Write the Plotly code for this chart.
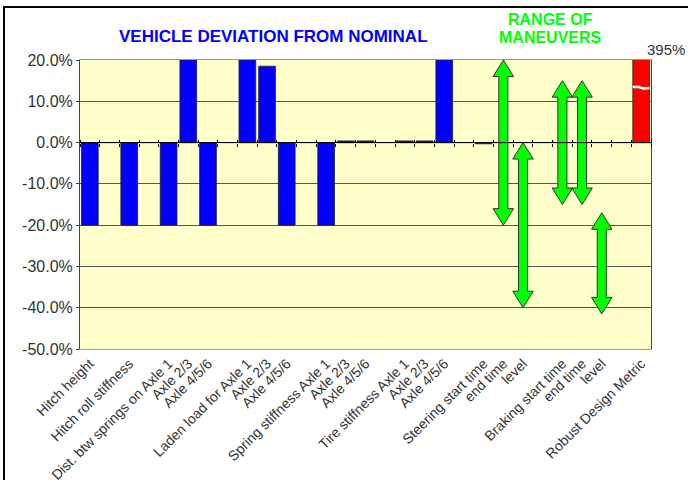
import plotly.graph_objects as go

## Data
categories = [
    "Hitch height", "", "Hitch roll stiffness", "",
    "Dist. btw springs on Axle 1", "Axle 2/3", "Axle 4/5/6", "",
    "Laden load for Axle 1", "Axle 2/3", "Axle 4/5/6", "",
    "Spring stiffness Axle 1", "Axle 2/3", "Axle 4/5/6", "",
    "Tire stiffness Axle 1", "Axle 2/3", "Axle 4/5/6", "",
    "Steering start time", "end time", "level", "",
    "Braking start time", "end time", "level", "",
    "Robust Design Metric",
]

# vehicle deviation from nominal (%), None where no bar
vehicle_dev = [
    -20, None, -20, None,
    -20, 20, -20, None,
    20, 18.5, -20, None,
    -20, 0.4, 0.4, None,
    0.4, 0.4, 20, None,
    -0.3, None, None, None,
    None, None, None, None,
    None,
]

# range of maneuvers (%)
maneuver_idx = [21, 22, 24, 25, 26]
maneuver_low = [-20, -40, -15, -15, -41.5]
maneuver_high = [20, 0, 15, 15, -17]

metric_idx = 28
metric_value = 395

y_ticks = [20, 10, 0, -10, -20, -30, -40, -50]

FONT = "Liberation Sans, Arial, sans-serif"

# plot area in pixels: x 80..651, y 60..349
def px_x(p):
    return (p - 80) / 571

def px_y(p):
    return (349 - p) / 289

fig = go.Figure()

x_all = list(range(len(categories)))

## Vehicle bars
fig.add_trace(go.Bar(
    x=x_all, y=vehicle_dev, width=0.85,
    marker=dict(color="#0000FF", line=dict(color="#222222", width=0.8)),
    hoverinfo="skip", showlegend=False,
))

## Robust design metric (clipped at top of axis)
fig.add_trace(go.Bar(
    x=[metric_idx], y=[metric_value], width=0.85,
    marker=dict(color="#FF0000", line=dict(color="#222222", width=0.8)),
    hoverinfo="skip", showlegend=False,
))

# white "break" mark across the clipped bar
brk = 13.3
fig.add_trace(go.Scatter(
    x=[metric_idx - 0.43, metric_idx - 0.15, metric_idx + 0.1, metric_idx + 0.43],
    y=[brk + 0.15, brk + 0.2, brk - 0.2, brk - 0.1],
    mode="lines", line=dict(color="white", width=2.5),
    hoverinfo="skip", showlegend=False,
))

## Double-headed arrows for the maneuver ranges
head_len = 4.0      # in % units
shaft_w = 0.23      # half width, category units
head_w = 0.52
for c, lo, hi in zip(maneuver_idx, maneuver_low, maneuver_high):
    xs = [c, c + head_w, c + shaft_w, c + shaft_w, c + head_w, c,
          c - head_w, c - shaft_w, c - shaft_w, c - head_w, c]
    ys = [hi, hi - head_len, hi - head_len, lo + head_len, lo + head_len, lo,
          lo + head_len, lo + head_len, hi - head_len, hi - head_len, hi]
    fig.add_trace(go.Scatter(
        x=xs, y=ys, mode="lines", fill="toself",
        fillcolor="#00FF00", line=dict(color="#333333", width=1),
        hoverinfo="skip", showlegend=False,
    ))

# zero line with cross tick marks (two overlaid axes)
for ax in ("x2", "x3"):
    fig.add_trace(go.Scatter(x=[-0.5, len(categories) - 0.5], y=[0, 0], xaxis=ax,
                             mode="lines", line=dict(color="black", width=1),
                             hoverinfo="skip", showlegend=False))

label_idx = [i for i, c in enumerate(categories) if c]
boundaries = [i - 0.5 for i in range(len(categories) + 1)]
tick_axis = dict(
    overlaying="x", anchor="free", position=50 / 70,
    range=[-0.5, len(categories) - 0.5],
    tickvals=boundaries, ticks="outside", ticklen=3, tickcolor="black",
    showticklabels=False, showgrid=False, zeroline=False, showline=False,
    automargin=False,
)

fig.update_layout(
    width=688, height=480,
    margin=dict(l=80, r=37, t=60, b=131, autoexpand=False),
    paper_bgcolor="white",
    plot_bgcolor="#FFFFCC",
    font=dict(family=FONT, color="#333333"),
    barmode="overlay",
    xaxis=dict(
        range=[-0.5, len(categories) - 0.5],
        tickvals=label_idx,
        ticktext=[categories[i] for i in label_idx],
        tickangle=-45,
        tickfont=dict(size=14, color="#333333"),
        showgrid=False, zeroline=False,
        showline=True, linecolor="#999999", linewidth=1, mirror=True,
        ticks="", automargin=False,
    ),
    xaxis2=dict(side="bottom", **tick_axis),
    xaxis3=dict(side="top", **tick_axis),
    yaxis=dict(
        range=[-50, 20],
        tickvals=y_ticks,
        ticktext=[f"{v:.1f}%" for v in y_ticks],
        tickfont=dict(size=16, color="#333333"),
        showgrid=True, gridcolor="#555555", gridwidth=1,
        zeroline=False,
        showline=True, linecolor="#444444", linewidth=1, mirror=True,
        ticks="outside", ticklen=3, tickcolor="#444444",
        automargin=False,
    ),
)

## Titles
fig.add_annotation(
    text="<b>VEHICLE DEVIATION FROM NOMINAL</b>",
    xref="paper", yref="paper", x=px_x(273), y=px_y(37),
    xanchor="center", yanchor="middle",
    showarrow=False, font=dict(size=17, color="#0000FF"),
)
for line, ypx in (("RANGE OF", 19.5), ("MANEUVERS", 38)):
    fig.add_annotation(
        text=f"<b>{line}</b>",
        xref="paper", yref="paper", x=px_x(550), y=px_y(ypx),
        xanchor="center", yanchor="middle",
        showarrow=False, font=dict(size=16, color="#00FF00"),
    )

# value label of the clipped bar
fig.add_annotation(
    text=f"{metric_value}%", x=metric_idx, y=20,
    xanchor="left", yanchor="bottom", xshift=4, yshift=0,
    showarrow=False, font=dict(size=15, color="#333333"),
)

# outer black frame
fig.add_shape(type="rect", xref="paper", yref="paper",
              x0=px_x(4), x1=px_x(700), y0=px_y(500), y1=px_y(7),
              line=dict(color="black", width=2), layer="below")

# drop the default page margin so the figure sits at the window's corner
fig.write_html("out.html", config={"displayModeBar": False},
               post_script="document.body.style.margin='0';")
